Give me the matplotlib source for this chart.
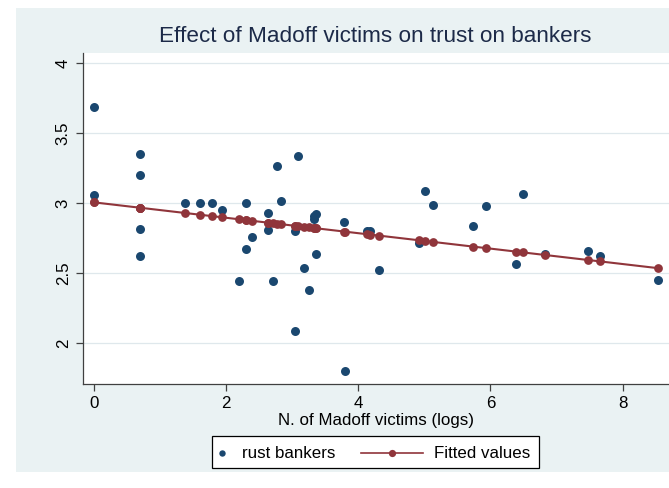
import matplotlib
matplotlib.use("Agg")
import matplotlib.pyplot as plt
from matplotlib.lines import Line2D
from matplotlib.patches import Rectangle
import numpy as np

plt.rcParams['font.family'] = ['Liberation Sans', 'DejaVu Sans']

# log number of Madoff victims per region and trust in bankers
victims_log = [0.0, 0.0, 0.693, 0.693, 0.693, 0.693, 1.386, 1.609, 1.792, 1.946,
               2.197, 2.303, 2.303, 2.398, 2.639, 2.639, 2.708, 2.773, 2.833, 3.045,
               3.045, 3.091, 3.178, 3.258, 3.332, 3.332, 3.367, 3.367, 3.784, 3.807,
               4.127, 4.174, 4.317, 4.920, 5.011, 5.136, 5.730, 5.940, 6.380, 6.492,
               6.820, 7.470, 7.660, 8.540]
trust_bankers = [3.69, 3.06, 3.35, 3.20, 2.82, 2.626, 3.00, 3.00, 3.00, 2.955,
                 2.445, 3.00, 2.676, 2.76, 2.93, 2.81, 2.445, 3.27, 3.02, 2.80,
                 2.09, 3.336, 2.536, 2.38, 2.89, 2.91, 2.925, 2.64, 2.864, 1.80,
                 2.80, 2.80, 2.524, 2.714, 3.088, 2.985, 2.836, 2.98, 2.566, 3.064,
                 2.635, 2.66, 2.624, 2.452]

# linear fit: trust = intercept + slope * log(victims)
fit_intercept = 3.007
fit_slope = -0.0551

x_ticks = [0, 2, 4, 6, 8]
y_ticks = [2, 2.5, 3, 3.5, 4]
y_tick_labels = ['2', '2.5', '3', '3.5', '4']
legend_labels = ['rust bankers', 'Fitted values']

NAVY = '#1a476f'
MAROON = '#90353b'
BG = '#eaf2f3'

W, H = 669, 488
fig = plt.figure(figsize=(W / 100, H / 100), dpi=100)
fig.patch.set_facecolor('white')


def fx(px):
    return px / W


def fy(py):
    return 1 - py / H


# outer graph region
fig.add_artist(Rectangle((fx(16), fy(472)), 1 - fx(16), (472 - 8) / H,
                         transform=fig.transFigure, facecolor=BG,
                         edgecolor='none', zorder=-10))

ax = fig.add_axes([fx(83), fy(384), 1 - fx(83), (384 - 53) / H])
ax.set_zorder(1)
ax.set_facecolor('white')
ax.set_xlim(-0.163, 8.702)
ax.set_ylim(1.709, 4.074)

for s in ['top', 'right']:
    ax.spines[s].set_visible(False)
for s in ['left', 'bottom']:
    ax.spines[s].set_color('#404040')
    ax.spines[s].set_linewidth(0.9)

ax.set_yticks(y_ticks)
ax.set_yticklabels(y_tick_labels, rotation=90, va='center')
ax.set_xticks(x_ticks)
ax.tick_params(axis='both', direction='out', length=4.8, width=0.9,
               color='#404040', labelsize=12.2, labelcolor='black', pad=4)
ax.yaxis.grid(True, color='#dfe8ec', linewidth=0.9)
ax.set_axisbelow(True)

x = np.array(victims_log)
fitted = fit_intercept + fit_slope * x
order = np.argsort(x)

ax.scatter(victims_log, trust_bankers, s=42, color=NAVY, zorder=3,
           linewidths=0)
ax.plot(x[order], fitted[order], color=MAROON, lw=1.5, marker='o',
        markersize=6.3, markeredgewidth=0, zorder=4)

ax.set_xlabel('N. of Madoff victims (logs)', fontsize=12.2, labelpad=1)

fig.text(fx(375), fy(37), 'Effect of Madoff victims on trust on bankers',
         ha='center', va='center', fontsize=16.2, color='#1c2a48')

# legend box
fig.add_artist(Rectangle((fx(212), fy(468)), fx(539) - fx(212), (468 - 436) / H,
                         transform=fig.transFigure, facecolor='white',
                         edgecolor='black', linewidth=0.9, zorder=5))
ly = fy(453)
fig.add_artist(Line2D([fx(222)], [ly], transform=fig.transFigure,
                      color=NAVY, marker='o', linestyle='none',
                      markersize=4.6, markeredgewidth=0, zorder=6))
fig.text(fx(242), ly, legend_labels[0], ha='left', va='center',
         fontsize=12.2, zorder=6)
fig.add_artist(Line2D([fx(361), fx(423)], [ly, ly], transform=fig.transFigure,
                      color=MAROON, lw=1.2, zorder=6))
fig.add_artist(Line2D([fx(392)], [ly], transform=fig.transFigure,
                      color=MAROON, marker='o', linestyle='none',
                      markersize=5.2, markeredgewidth=0, zorder=6))
fig.text(fx(434), ly, legend_labels[1], ha='left', va='center',
         fontsize=12.2, zorder=6)

fig.savefig('out.png', dpi=100)
